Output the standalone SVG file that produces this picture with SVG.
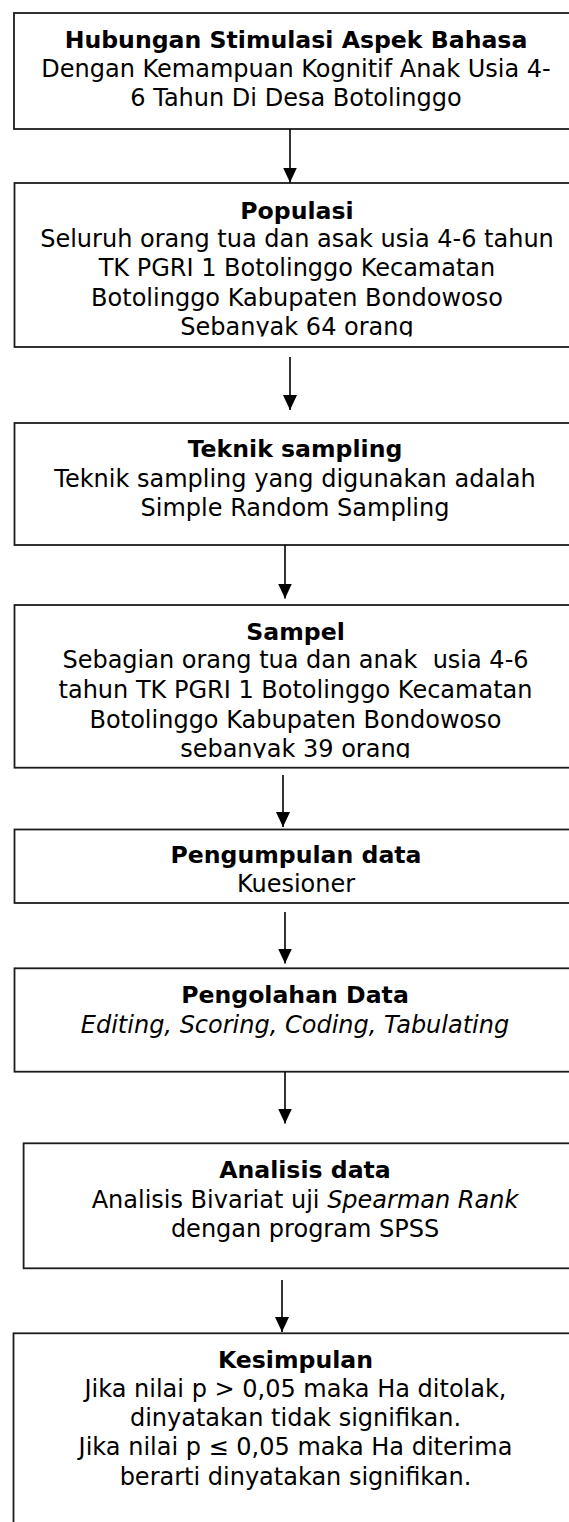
<svg xmlns="http://www.w3.org/2000/svg" width="569" height="1522" viewBox="0 0 569 1522">
<defs>
<style>
.box{fill:#fff;stroke:#1c1c1c;stroke-width:1.8}
.t{font-family:"DejaVu Sans",Verdana,sans-serif;font-size:24px;fill:#000;text-anchor:middle}
.b{font-weight:bold;font-size:23.6px}
.i{font-style:italic}
.conn line{stroke:#000;stroke-width:1.6;marker-end:url(#ah)}
</style>
<marker id="ah" viewBox="0 0 15 14" refX="15" refY="7" markerWidth="15" markerHeight="14" markerUnits="userSpaceOnUse" orient="auto">
<path d="M0,0 L15,7 L0,14 z" fill="#000"/>
</marker>
<clipPath id="c2"><rect x="0" y="183" width="569" height="153.5"/></clipPath>
<clipPath id="c4"><rect x="0" y="605" width="569" height="153"/></clipPath>
</defs>

<g id="n1">
<rect class="box" x="14" y="13" width="566" height="116"/>
<text class="t b" x="296" y="48.3">Hubungan Stimulasi Aspek Bahasa</text>
<text class="t" x="296" y="77.3">Dengan Kemampuan Kognitif Anak Usia 4-</text>
<text class="t" x="296" y="106">6 Tahun Di Desa Botolinggo</text>
</g>

<g id="n2">
<rect class="box" x="14.5" y="183" width="566" height="164"/>
<g clip-path="url(#c2)">
<text class="t b" x="297" y="218.5">Populasi</text>
<text class="t" x="297" y="247">Seluruh orang tua dan asak usia 4-6 tahun</text>
<text class="t" x="297" y="276">TK PGRI 1 Botolinggo Kecamatan</text>
<text class="t" x="297" y="305.5">Botolinggo Kabupaten Bondowoso</text>
<text class="t" x="297" y="335">Sebanyak 64 orang</text>
</g>
</g>

<g id="n3">
<rect class="box" x="14.5" y="423" width="566" height="122"/>
<text class="t b" x="295" y="457">Teknik sampling</text>
<text class="t" x="295" y="486.5">Teknik sampling yang digunakan adalah</text>
<text class="t" x="295" y="515.5">Simple Random Sampling</text>
</g>

<g id="n4">
<rect class="box" x="14.5" y="605" width="566" height="162.7"/>
<g clip-path="url(#c4)">
<text class="t b" x="295.5" y="640">Sampel</text>
<text class="t" x="295.5" y="668.3" xml:space="preserve">Sebagian orang tua dan anak  usia 4-6</text>
<text class="t" x="295.5" y="697.7">tahun TK PGRI 1 Botolinggo Kecamatan</text>
<text class="t" x="295.5" y="727.7">Botolinggo Kabupaten Bondowoso</text>
<text class="t" x="295.5" y="756.7">sebanyak 39 orang</text>
</g>
</g>

<g id="n5">
<rect class="box" x="14.5" y="829.5" width="566" height="73.5"/>
<text class="t b" x="296" y="863.3">Pengumpulan data</text>
<text class="t" x="296" y="891.7">Kuesioner</text>
</g>

<g id="n6">
<rect class="box" x="14.5" y="968.3" width="566" height="103.4"/>
<text class="t b" x="295" y="1003.3">Pengolahan Data</text>
<text class="t i" x="295" y="1033.3">Editing, Scoring, Coding, Tabulating</text>
</g>

<g id="n7">
<rect class="box" x="23.6" y="1143.3" width="566" height="125"/>
<text class="t b" x="305" y="1178.3">Analisis data</text>
<text class="t" x="305" y="1208.3">Analisis Bivariat uji <tspan class="i">Spearman Rank</tspan></text>
<text class="t" x="305" y="1236.7">dengan program SPSS</text>
</g>

<g id="n8">
<rect class="box" x="13.5" y="1333.3" width="566" height="250"/>
<text class="t b" x="295.5" y="1367.7">Kesimpulan</text>
<text class="t" x="295.5" y="1397.3">Jika nilai p &gt; 0,05 maka Ha ditolak,</text>
<text class="t" x="295.5" y="1426">dinyatakan tidak signifikan.</text>
<text class="t" x="295.5" y="1455">Jika nilai p ≤ 0,05 maka Ha diterima</text>
<text class="t" x="295.5" y="1485">berarti dinyatakan signifikan.</text>
</g>

<g id="connectors" class="conn">
<line x1="290" y1="129" x2="290" y2="182.5"/>
<line x1="290" y1="357" x2="290" y2="410"/>
<line x1="285" y1="545" x2="285" y2="598.5"/>
<line x1="283" y1="775" x2="283" y2="827"/>
<line x1="285" y1="912" x2="285" y2="963.5"/>
<line x1="285" y1="1072" x2="285" y2="1123.5"/>
<line x1="282" y1="1280" x2="282" y2="1332"/>
</g>
</svg>
